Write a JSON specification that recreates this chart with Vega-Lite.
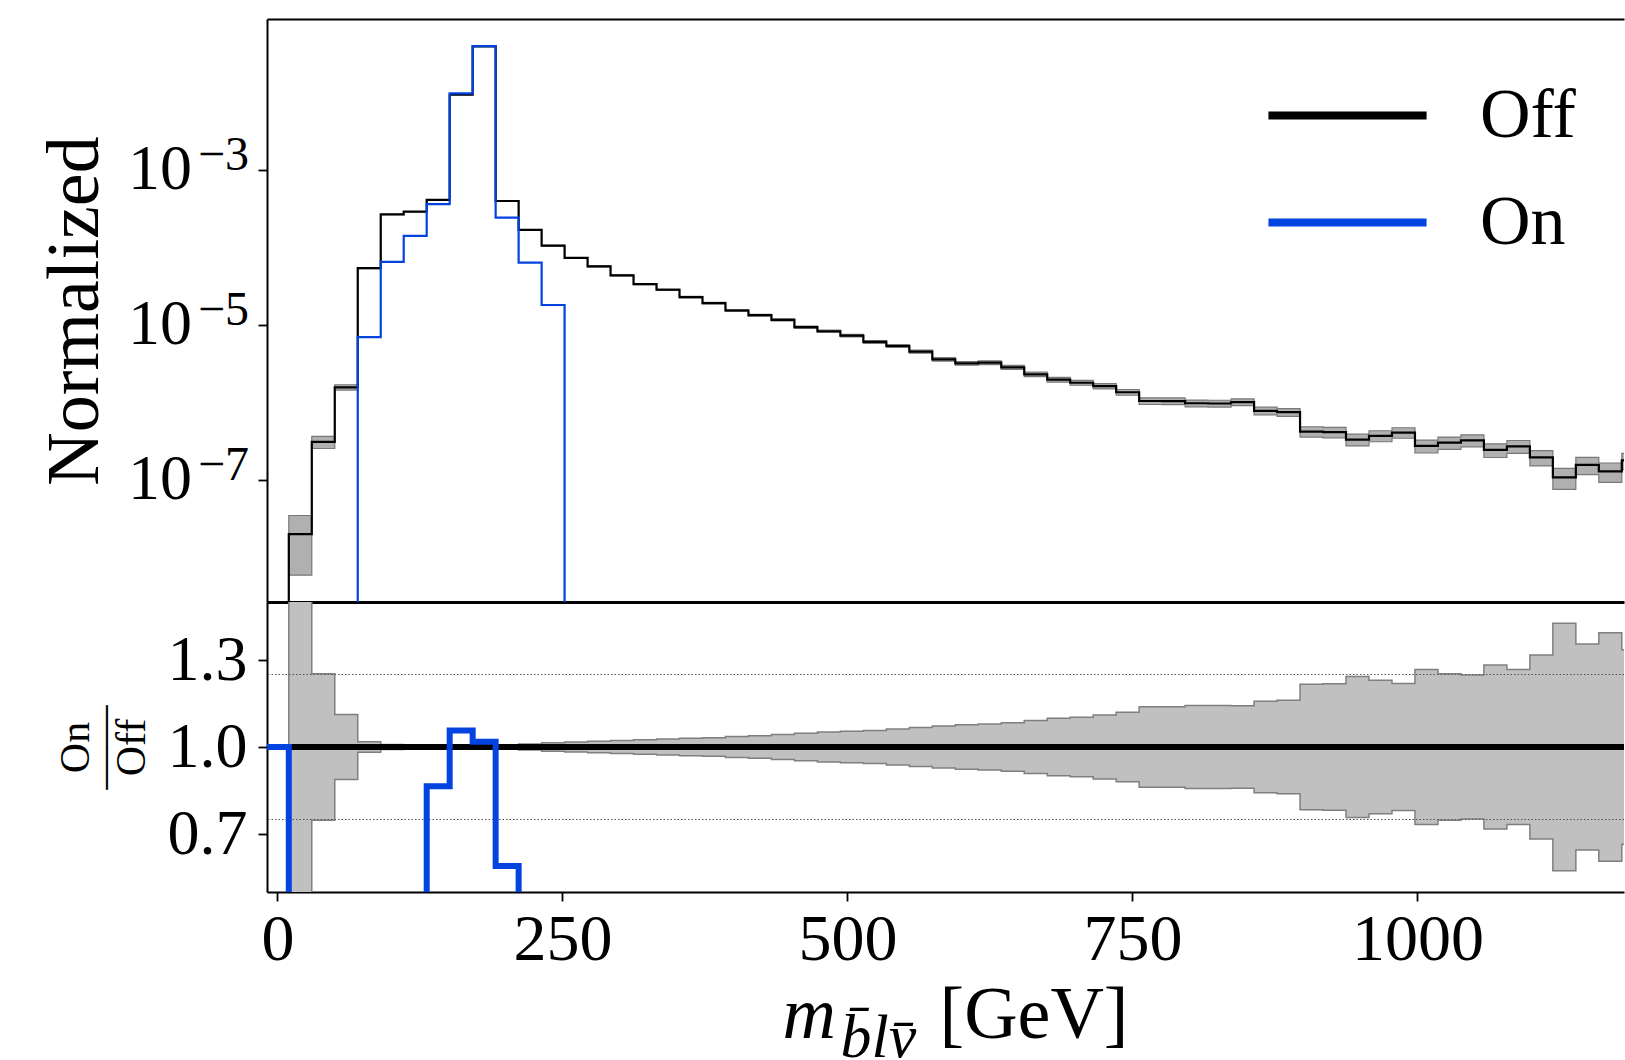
{
  "$schema": "https://vega.github.io/schema/vega-lite/v6.json",
  "padding": {"left": 38, "top": 19, "right": 0, "bottom": 0},
  "background": "white",
  "config": {
    "view": {"stroke": null},
    "font": "Liberation Serif",
    "axis": {
      "labelFont": "Liberation Serif", "titleFont": "Liberation Serif",
      "labelColor": "black", "titleColor": "black", "domainColor": "black", "tickColor": "black",
      "labelFontWeight": "normal", "titleFontWeight": "normal", "grid": false,
      "domainWidth": 2, "tickWidth": 1.8, "tickSize": 9
    }
  },
  "datasets": {
    "off": [
      {"x": -20, "v": 1e-12}, {"x": 10, "v": 2.0e-8}, {"x": 30.16, "v": 3.09e-7}, {"x": 50.32, "v": 1.563e-6},
      {"x": 70.48, "v": 5.37e-5}, {"x": 90.64, "v": 2.65e-4}, {"x": 110.8, "v": 2.88e-4}, {"x": 130.96, "v": 4.09e-4},
      {"x": 151.12, "v": 9.31e-3}, {"x": 171.28, "v": 3.91e-2}, {"x": 191.44, "v": 3.95e-4}, {"x": 211.6, "v": 1.675e-4},
      {"x": 231.76, "v": 1.047e-4}, {"x": 251.92, "v": 7.28e-5}, {"x": 272.08, "v": 5.68e-5}, {"x": 292.24, "v": 4.34e-5},
      {"x": 312.4, "v": 3.35e-5}, {"x": 332.56, "v": 2.83e-5}, {"x": 352.72, "v": 2.28e-5}, {"x": 372.88, "v": 1.90e-5},
      {"x": 393.04, "v": 1.53e-5}, {"x": 413.2, "v": 1.33e-5}, {"x": 433.36, "v": 1.16e-5}, {"x": 453.52, "v": 9.31e-6},
      {"x": 473.68, "v": 8.26e-6}, {"x": 493.84, "v": 7.26e-6}, {"x": 514, "v": 6.01e-6}, {"x": 534.16, "v": 5.33e-6},
      {"x": 554.32, "v": 4.51e-6}, {"x": 574.48, "v": 3.59e-6}, {"x": 594.64, "v": 3.18e-6}, {"x": 614.8, "v": 3.25e-6},
      {"x": 634.96, "v": 2.82e-6}, {"x": 655.12, "v": 2.30e-6}, {"x": 675.28, "v": 1.96e-6}, {"x": 695.44, "v": 1.79e-6},
      {"x": 715.6, "v": 1.62e-6}, {"x": 735.76, "v": 1.35e-6}, {"x": 755.92, "v": 1.04e-6}, {"x": 776.08, "v": 1.038e-6},
      {"x": 796.24, "v": 9.73e-7}, {"x": 816.4, "v": 9.66e-7}, {"x": 836.56, "v": 1.007e-6}, {"x": 856.72, "v": 7.78e-7},
      {"x": 876.88, "v": 7.46e-7}, {"x": 897.04, "v": 4.20e-7}, {"x": 917.2, "v": 4.12e-7}, {"x": 937.36, "v": 3.31e-7},
      {"x": 957.52, "v": 3.70e-7}, {"x": 977.68, "v": 4.07e-7}, {"x": 997.84, "v": 2.74e-7}, {"x": 1018, "v": 3.02e-7},
      {"x": 1038.16, "v": 3.24e-7}, {"x": 1058.32, "v": 2.43e-7}, {"x": 1078.48, "v": 2.71e-7}, {"x": 1098.64, "v": 1.95e-7},
      {"x": 1118.8, "v": 1.08e-7}, {"x": 1138.96, "v": 1.56e-7}, {"x": 1159.12, "v": 1.29e-7}, {"x": 1179.28, "v": 1.78e-7},
      {"x": 1199.44, "v": 1.78e-7}
    ],
    "on": [
      {"x": 50.32, "v": 1e-12}, {"x": 70.48, "v": 6.95e-6}, {"x": 90.64, "v": 6.47e-5}, {"x": 110.8, "v": 1.406e-4},
      {"x": 130.96, "v": 3.60e-4}, {"x": 151.12, "v": 9.66e-3}, {"x": 171.28, "v": 3.92e-2}, {"x": 191.44, "v": 2.415e-4},
      {"x": 211.6, "v": 6.32e-5}, {"x": 231.76, "v": 1.80e-5}, {"x": 251.92, "v": 1e-12}, {"x": 300, "v": 1e-12}
    ],
    "band": [
      {"x": 10, "lo": 5.9e-9, "hi": 3.47e-8, "rlo": 0.28, "rhi": 1.72},
      {"x": 30.16, "lo": 2.54e-7, "hi": 3.64e-7, "rlo": 0.747, "rhi": 1.253},
      {"x": 50.32, "lo": 1.44e-6, "hi": 1.686e-6, "rlo": 0.888, "rhi": 1.112},
      {"x": 70.48, "lo": 5.30e-5, "hi": 5.44e-5, "rlo": 0.982, "rhi": 1.018},
      {"x": 90.64, "lo": 2.633e-4, "hi": 2.667e-4, "rlo": 0.991, "rhi": 1.009},
      {"x": 110.8, "lo": 2.866e-4, "hi": 2.894e-4, "rlo": 0.993, "rhi": 1.007},
      {"x": 130.96, "lo": 4.076e-4, "hi": 4.104e-4, "rlo": 0.995, "rhi": 1.005},
      {"x": 151.12, "lo": 9.29e-3, "hi": 9.33e-3, "rlo": 0.997, "rhi": 1.003},
      {"x": 171.28, "lo": 3.905e-2, "hi": 3.915e-2, "rlo": 0.998, "rhi": 1.002},
      {"x": 191.44, "lo": 3.936e-4, "hi": 3.964e-4, "rlo": 0.995, "rhi": 1.005},
      {"x": 211.6, "lo": 1.663e-4, "hi": 1.687e-4, "rlo": 0.99, "rhi": 1.01},
      {"x": 231.76, "lo": 1.036e-4, "hi": 1.058e-4, "rlo": 0.985, "rhi": 1.015},
      {"x": 251.92, "lo": 7.19e-5, "hi": 7.37e-5, "rlo": 0.983, "rhi": 1.017},
      {"x": 272.08, "lo": 5.60e-5, "hi": 5.76e-5, "rlo": 0.98, "rhi": 1.02},
      {"x": 292.24, "lo": 4.27e-5, "hi": 4.41e-5, "rlo": 0.978, "rhi": 1.022},
      {"x": 312.4, "lo": 3.29e-5, "hi": 3.41e-5, "rlo": 0.975, "rhi": 1.025},
      {"x": 332.56, "lo": 2.77e-5, "hi": 2.89e-5, "rlo": 0.972, "rhi": 1.028},
      {"x": 352.72, "lo": 2.23e-5, "hi": 2.33e-5, "rlo": 0.97, "rhi": 1.03},
      {"x": 372.88, "lo": 1.857e-5, "hi": 1.943e-5, "rlo": 0.968, "rhi": 1.032},
      {"x": 393.04, "lo": 1.491e-5, "hi": 1.569e-5, "rlo": 0.964, "rhi": 1.036},
      {"x": 413.2, "lo": 1.293e-5, "hi": 1.367e-5, "rlo": 0.961, "rhi": 1.039},
      {"x": 433.36, "lo": 1.125e-5, "hi": 1.195e-5, "rlo": 0.957, "rhi": 1.043},
      {"x": 453.52, "lo": 9.00e-6, "hi": 9.62e-6, "rlo": 0.953, "rhi": 1.047},
      {"x": 473.68, "lo": 7.96e-6, "hi": 8.56e-6, "rlo": 0.948, "rhi": 1.052},
      {"x": 493.84, "lo": 6.98e-6, "hi": 7.54e-6, "rlo": 0.946, "rhi": 1.054},
      {"x": 514, "lo": 5.77e-6, "hi": 6.25e-6, "rlo": 0.943, "rhi": 1.057},
      {"x": 534.16, "lo": 5.10e-6, "hi": 5.56e-6, "rlo": 0.938, "rhi": 1.062},
      {"x": 554.32, "lo": 4.30e-6, "hi": 4.72e-6, "rlo": 0.933, "rhi": 1.067},
      {"x": 574.48, "lo": 3.41e-6, "hi": 3.77e-6, "rlo": 0.928, "rhi": 1.072},
      {"x": 594.64, "lo": 3.01e-6, "hi": 3.35e-6, "rlo": 0.923, "rhi": 1.077},
      {"x": 614.8, "lo": 3.07e-6, "hi": 3.43e-6, "rlo": 0.921, "rhi": 1.079},
      {"x": 634.96, "lo": 2.65e-6, "hi": 2.99e-6, "rlo": 0.916, "rhi": 1.084},
      {"x": 655.12, "lo": 2.15e-6, "hi": 2.45e-6, "rlo": 0.909, "rhi": 1.091},
      {"x": 675.28, "lo": 1.823e-6, "hi": 2.097e-6, "rlo": 0.901, "rhi": 1.099},
      {"x": 695.44, "lo": 1.66e-6, "hi": 1.92e-6, "rlo": 0.897, "rhi": 1.103},
      {"x": 715.6, "lo": 1.494e-6, "hi": 1.746e-6, "rlo": 0.89, "rhi": 1.11},
      {"x": 735.76, "lo": 1.235e-6, "hi": 1.465e-6, "rlo": 0.88, "rhi": 1.12},
      {"x": 755.92, "lo": 9.38e-7, "hi": 1.142e-6, "rlo": 0.861, "rhi": 1.139},
      {"x": 776.08, "lo": 9.36e-7, "hi": 1.14e-6, "rlo": 0.861, "rhi": 1.139},
      {"x": 796.24, "lo": 8.75e-7, "hi": 1.071e-6, "rlo": 0.857, "rhi": 1.143},
      {"x": 816.4, "lo": 8.68e-7, "hi": 1.064e-6, "rlo": 0.857, "rhi": 1.143},
      {"x": 836.56, "lo": 9.06e-7, "hi": 1.108e-6, "rlo": 0.858, "rhi": 1.142},
      {"x": 856.72, "lo": 6.91e-7, "hi": 8.65e-7, "rlo": 0.842, "rhi": 1.158},
      {"x": 876.88, "lo": 6.61e-7, "hi": 8.31e-7, "rlo": 0.839, "rhi": 1.161},
      {"x": 897.04, "lo": 3.56e-7, "hi": 4.84e-7, "rlo": 0.784, "rhi": 1.216},
      {"x": 917.2, "lo": 3.49e-7, "hi": 4.75e-7, "rlo": 0.782, "rhi": 1.218},
      {"x": 937.36, "lo": 2.74e-7, "hi": 3.88e-7, "rlo": 0.757, "rhi": 1.243},
      {"x": 957.52, "lo": 3.10e-7, "hi": 4.30e-7, "rlo": 0.77, "rhi": 1.23},
      {"x": 977.68, "lo": 3.44e-7, "hi": 4.70e-7, "rlo": 0.781, "rhi": 1.219},
      {"x": 997.84, "lo": 2.22e-7, "hi": 3.26e-7, "rlo": 0.733, "rhi": 1.267},
      {"x": 1018, "lo": 2.48e-7, "hi": 3.56e-7, "rlo": 0.747, "rhi": 1.253},
      {"x": 1038.16, "lo": 2.67e-7, "hi": 3.81e-7, "rlo": 0.752, "rhi": 1.248},
      {"x": 1058.32, "lo": 1.944e-7, "hi": 2.92e-7, "rlo": 0.717, "rhi": 1.283},
      {"x": 1078.48, "lo": 2.20e-7, "hi": 3.22e-7, "rlo": 0.733, "rhi": 1.267},
      {"x": 1098.64, "lo": 1.513e-7, "hi": 2.39e-7, "rlo": 0.683, "rhi": 1.317},
      {"x": 1118.8, "lo": 7.54e-8, "hi": 1.406e-7, "rlo": 0.573, "rhi": 1.427},
      {"x": 1138.96, "lo": 1.168e-7, "hi": 1.952e-7, "rlo": 0.645, "rhi": 1.355},
      {"x": 1159.12, "lo": 9.30e-8, "hi": 1.65e-7, "rlo": 0.606, "rhi": 1.394},
      {"x": 1179.28, "lo": 1.358e-7, "hi": 2.20e-7, "rlo": 0.665, "rhi": 1.335},
      {"x": 1199.44, "lo": 1.358e-7, "hi": 2.20e-7, "rlo": 0.665, "rhi": 1.335}
    ],
    "ron": [
      {"x": -20, "r": 1.0}, {"x": 10, "r": 0}, {"x": 70.48, "r": 0.13}, {"x": 90.64, "r": 0.24},
      {"x": 110.8, "r": 0.45}, {"x": 130.96, "r": 0.865}, {"x": 151.12, "r": 1.057}, {"x": 171.28, "r": 1.018},
      {"x": 191.44, "r": 0.59}, {"x": 211.6, "r": 0.378}, {"x": 231.76, "r": 0.17}, {"x": 251.92, "r": 0},
      {"x": 1199.44, "r": 0}
    ],
    "roff": [{"x": 10, "r": 1}, {"x": 1199.44, "r": 1}],
    "rdash": [{"x": -20, "r": 1}, {"x": 10, "r": 1}],
    "guides": [{"y": 0.75}, {"y": 1.25}]
  },
  "spacing": 0,
  "bounds": "flush",
  "resolve": {"scale": {"color": "independent"}, "legend": {"color": "independent"}},
  "vconcat": [
    {
      "width": 1357,
      "height": 583,
      "resolve": {"axis": {"x": "independent", "y": "independent"}},
      "layer": [
        {
          "data": {"name": "band"},
          "mark": {"type": "area", "interpolate": "step-after", "clip": true, "fill": "#b0b0b0", "stroke": "#787878", "strokeWidth": 1.2},
          "encoding": {
            "x": {"field": "x", "type": "quantitative", "scale": {"domain": [-9.12, 1181.2], "nice": false, "zero": false},
                  "axis": {"orient": "top", "labels": false, "ticks": false, "title": null, "domainWidth": 2}},
            "y": {"field": "lo", "type": "quantitative", "scale": {"type": "log", "domain": [2.66e-9, 0.0879], "nice": false},
                  "axis": {"orient": "left", "values": [1e-7, 1e-5, 1e-3], "labelExpr": "'10'",
                           "labelFontSize": 64, "labelPadding": 66.5, "title": "Normalized", "titleFontSize": 74, "titlePadding": 14}},
            "y2": {"field": "hi"}
          }
        },
        {
          "data": {"name": "off"},
          "mark": {"type": "line", "interpolate": "step-after", "clip": true, "strokeWidth": 2.2},
          "encoding": {
            "x": {"field": "x", "type": "quantitative", "scale": {"domain": [-9.12, 1181.2], "nice": false, "zero": false},
                  "axis": {"orient": "bottom", "labels": false, "ticks": false, "title": null, "domainWidth": 3}},
            "y": {"field": "v", "type": "quantitative", "scale": {"type": "log", "domain": [2.66e-9, 0.0879], "nice": false},
                  "axis": {"orient": "left", "values": [1e-7, 1e-5, 1e-3],
                           "labelExpr": "datum.value > 5e-4 ? '−3' : datum.value > 5e-6 ? '−5' : '−7'",
                           "labelFontSize": 48, "labelPadding": 9.5, "labelBaseline": "alphabetic",
                           "ticks": true, "tickOpacity": 0, "domain": false, "title": null}},
            "color": {"datum": "Off", "type": "nominal",
                      "scale": {"domain": ["Off", "On"], "range": ["#000000", "#0343df"]},
                      "legend": {"orient": "none", "legendX": 997, "legendY": 43, "title": null, "symbolType": "stroke",
                                 "symbolSize": 25000, "symbolStrokeWidth": 8, "labelFont": "Liberation Serif", "labelFontSize": 70,
                                 "labelColor": "black", "labelOffset": 49, "clipHeight": 107, "rowPadding": 0, "padding": 0}}
          }
        },
        {
          "data": {"name": "on"},
          "mark": {"type": "line", "interpolate": "step-after", "clip": true, "strokeWidth": 2.2},
          "encoding": {
            "x": {"field": "x", "type": "quantitative", "scale": {"domain": [-9.12, 1181.2], "nice": false, "zero": false}, "axis": null},
            "y": {"field": "v", "type": "quantitative", "scale": {"type": "log", "domain": [2.66e-9, 0.0879], "nice": false}, "axis": null},
            "color": {"datum": "On", "type": "nominal"}
          }
        }
      ]
    },
    {
      "width": 1357,
      "height": 290,
      "resolve": {"axis": {"x": "independent"}},
      "layer": [
        {
          "data": {"name": "band"},
          "mark": {"type": "area", "interpolate": "step-after", "clip": true, "fill": "#c0c0c0", "stroke": "#7f7f7f", "strokeWidth": 1.5},
          "encoding": {
            "x": {"field": "x", "type": "quantitative", "scale": {"domain": [-9.12, 1181.2], "nice": false, "zero": false},
                  "axis": {"orient": "bottom", "values": [0, 250, 500, 750, 1000], "format": "d", "labelFontSize": 66, "labelPadding": 6,
                           "title": "[GeV]", "titleFontSize": 74, "titleX": 672, "titleY": 145.5, "titleAlign": "left", "titleBaseline": "alphabetic", "titleAngle": 0}},
            "y": {"field": "rlo", "type": "quantitative", "scale": {"domain": [0.5, 1.5], "nice": false, "zero": false},
                  "axis": {"values": [0.7, 1.0, 1.3], "format": ".1f", "labelFontSize": 64, "labelPadding": 11,
                           "title": ["On", "——", "Off"], "titleFontSize": 42, "titleLineHeight": 28, "titlePadding": 14}},
            "y2": {"field": "rhi"}
          }
        },
        {
          "data": {"name": "guides"},
          "mark": {"type": "rule", "color": "#555555", "strokeWidth": 1.2, "strokeDash": [1.5, 2]},
          "encoding": {
            "y": {"field": "y", "type": "quantitative", "scale": {"domain": [0.5, 1.5], "nice": false, "zero": false},
                  "axis": {"values": [0.7, 1.0, 1.3], "format": ".1f", "labelFontSize": 64, "labelPadding": 11,
                           "title": ["On", "——", "Off"], "titleFontSize": 42, "titleLineHeight": 28, "titlePadding": 14}}
          }
        },
        {
          "data": {"name": "roff"},
          "mark": {"type": "line", "clip": true, "strokeWidth": 6, "color": "#000000"},
          "encoding": {
            "x": {"field": "x", "type": "quantitative", "scale": {"domain": [-9.12, 1181.2], "nice": false, "zero": false},
                  "axis": {"orient": "bottom", "labels": false, "ticks": false, "domain": false,
                           "title": "m", "titleFontSize": 74, "titleFontStyle": "italic", "titleX": 515, "titleY": 145.5, "titleAlign": "left", "titleBaseline": "alphabetic", "titleAngle": 0}},
            "y": {"field": "r", "type": "quantitative", "scale": {"domain": [0.5, 1.5], "nice": false, "zero": false},
                  "axis": {"values": [0.7, 1.0, 1.3], "format": ".1f", "labelFontSize": 64, "labelPadding": 11,
                           "title": ["On", "——", "Off"], "titleFontSize": 42, "titleLineHeight": 28, "titlePadding": 14}}
          }
        },
        {
          "data": {"name": "rdash"},
          "mark": {"type": "line", "clip": true, "strokeWidth": 1.5, "color": "#000000", "strokeDash": [4, 3]},
          "encoding": {
            "x": {"field": "x", "type": "quantitative", "scale": {"domain": [-9.12, 1181.2], "nice": false, "zero": false}, "axis": null},
            "y": {"field": "r", "type": "quantitative", "scale": {"domain": [0.5, 1.5], "nice": false, "zero": false},
                  "axis": {"values": [0.7, 1.0, 1.3], "format": ".1f", "labelFontSize": 64, "labelPadding": 11,
                           "title": ["On", "——", "Off"], "titleFontSize": 42, "titleLineHeight": 28, "titlePadding": 14}}
          }
        },
        {
          "data": {"name": "ron"},
          "mark": {"type": "line", "interpolate": "step-after", "clip": true, "strokeWidth": 6, "color": "#0343df"},
          "encoding": {
            "x": {"field": "x", "type": "quantitative", "scale": {"domain": [-9.12, 1181.2], "nice": false, "zero": false},
                  "axis": {"orient": "bottom", "labels": false, "ticks": false, "domain": false,
                           "title": "b̄lv̄", "titleFontSize": 62, "titleFontStyle": "italic", "titleX": 573, "titleY": 164, "titleAlign": "left", "titleBaseline": "alphabetic", "titleAngle": 0}},
            "y": {"field": "r", "type": "quantitative", "scale": {"domain": [0.5, 1.5], "nice": false, "zero": false},
                  "axis": {"values": [0.7, 1.0, 1.3], "format": ".1f", "labelFontSize": 64, "labelPadding": 11,
                           "title": ["On", "——", "Off"], "titleFontSize": 42, "titleLineHeight": 28, "titlePadding": 14}}
          }
        }
      ]
    }
  ]
}
